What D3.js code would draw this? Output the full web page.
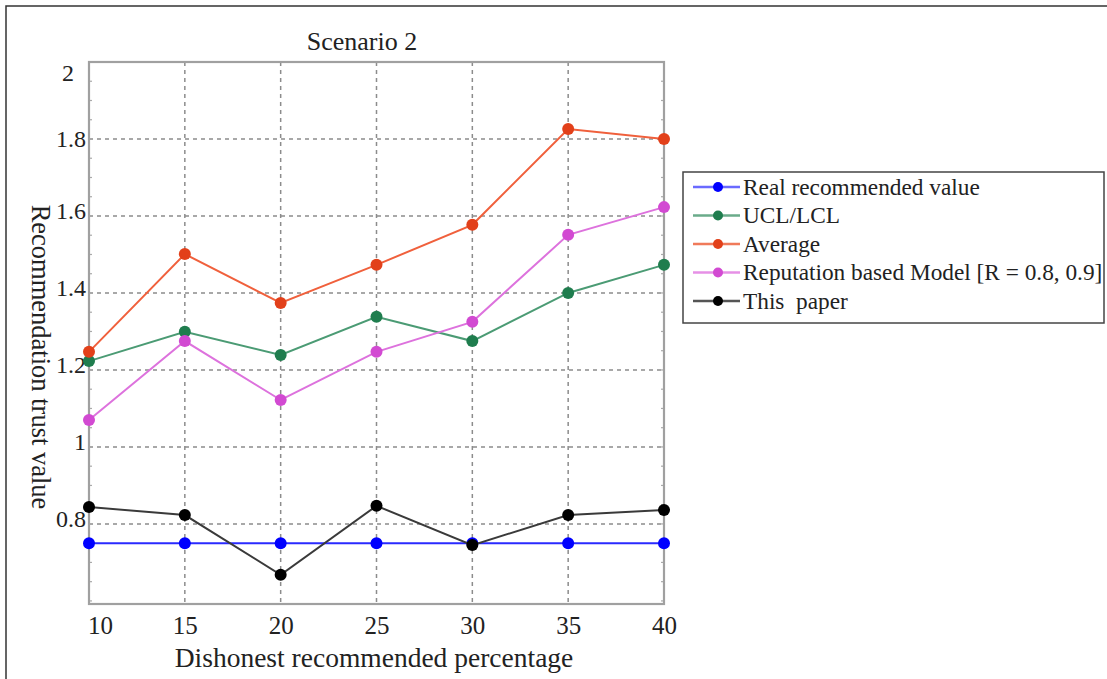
<!DOCTYPE html>
<html>
<head>
<meta charset="utf-8">
<script src="https://cdn.jsdelivr.net/npm/d3@7"></script>
<style>
  body { margin: 0; background: #fff; }
  text { font-family: "Liberation Serif", "Times New Roman", serif; fill: #222; }
</style>
</head>
<body>
<svg id="chart" width="1107" height="679"></svg>
<script>
// data
const percentages = [10, 15, 20, 25, 30, 35, 40];
const realValue   = [0.75, 0.75, 0.75, 0.75, 0.75, 0.75, 0.75];
const uclLcl      = [1.223, 1.299, 1.239, 1.338, 1.275, 1.40, 1.473];
const average     = [1.247, 1.501, 1.374, 1.473, 1.577, 1.826, 1.80];
const reputation  = [1.07, 1.275, 1.122, 1.247, 1.325, 1.551, 1.623];
const thisPaper   = [0.844, 0.823, 0.668, 0.847, 0.745, 0.823, 0.836];
const seriesNames = ["Real recommended value", "UCL/LCL", "Average",
                     "Reputation based Model [R = 0.8, 0.9]", "This  paper"];
const yTicks = [0.8, 1, 1.2, 1.4, 1.6, 1.8, 2];

// styles per series (line colour, marker colour)
const styles = [
  { line: "#2a2aff", dot: "#0000ff", legendLine: "#6a6aff" },
  { line: "#4b9b74", dot: "#1f7d4e", legendLine: "#6aab8a" },
  { line: "#f0603c", dot: "#e2401a", legendLine: "#f07a5a" },
  { line: "#dd72dd", dot: "#d24ad2", legendLine: "#e690e6" },
  { line: "#3a3a3a", dot: "#000000", legendLine: "#555555" }
];

const allSeries = [realValue, uclLcl, average, reputation, thisPaper];

const svg = d3.select("#chart");
const plot = { left: 89, right: 664, top: 62, bottom: 604 };

// outer frame (runs off the right/bottom of the image)
svg.append("rect")
  .attr("x", 6).attr("y", 6).attr("width", 1200).attr("height", 800)
  .attr("fill", "none").attr("stroke", "#333").attr("stroke-width", 1.5);

const x = d3.scaleLinear().domain([10, 40]).range([plot.left, plot.right]);
const y = d3.scaleLinear().domain([0.592, 2]).range([plot.bottom, plot.top]);

// grid
const grid = svg.append("g").attr("stroke", "#8c8c8c").attr("stroke-width", 1.5)
  .attr("stroke-dasharray", "4,4");
grid.selectAll(".vg").data(percentages.slice(1, -1)).join("line")
  .attr("x1", d => x(d)).attr("x2", d => x(d))
  .attr("y1", plot.top).attr("y2", plot.bottom);
grid.selectAll(".hg").data(yTicks.slice(0, -1)).join("line")
  .attr("x1", plot.left).attr("x2", plot.right)
  .attr("y1", d => y(d)).attr("y2", d => y(d));

// minor ticks on the left / right of the box
const minor = svg.append("g").attr("stroke", "#aaa").attr("stroke-width", 1.2);
const yMinor = d3.range(0.6, 2.0001, 0.05);
minor.selectAll(".ml").data(yMinor).join("line")
  .attr("x1", plot.left).attr("x2", plot.left + 3)
  .attr("y1", d => y(d)).attr("y2", d => y(d));
minor.selectAll(".mr").data(yMinor).join("line")
  .attr("x1", plot.right).attr("x2", plot.right - 3)
  .attr("y1", d => y(d)).attr("y2", d => y(d));

// box
svg.append("rect")
  .attr("x", plot.left).attr("y", plot.top)
  .attr("width", plot.right - plot.left).attr("height", plot.bottom - plot.top)
  .attr("fill", "none").attr("stroke", "#a0a0a0").attr("stroke-width", 2.2);

// axes (labels only)
const xAxis = svg.append("g").attr("transform", `translate(0,${plot.bottom})`)
  .call(d3.axisBottom(x).tickValues(percentages).tickSize(0).tickPadding(12));
xAxis.select(".domain").remove();
xAxis.selectAll("text").style("font-size", "25px").attr("fill", "#222");
xAxis.selectAll("text").filter(d => d === 10).attr("dx", 11);

const yAxis = svg.append("g").attr("transform", `translate(${plot.left},0)`)
  .call(d3.axisLeft(y).tickValues(yTicks).tickSize(0).tickPadding(3)
    .tickFormat(d => String(d)));
yAxis.select(".domain").remove();
yAxis.selectAll("text").style("font-size", "24px").attr("fill", "#222");
yAxis.selectAll("text").filter(d => d === 2).attr("dy", "0.75em").attr("dx", -12);
yAxis.selectAll("text").filter(d => d < 1.7).attr("dy", "0.1em");

// titles
svg.append("text").attr("x", 362).attr("y", 50).attr("text-anchor", "middle")
  .style("font-size", "26px").text("Scenario 2");
svg.append("text").attr("x", 374).attr("y", 667).attr("text-anchor", "middle")
  .style("font-size", "27.5px").text("Dishonest recommended percentage");
svg.append("text").attr("transform", "translate(32,357) rotate(90)")
  .attr("text-anchor", "middle").style("font-size", "26.5px")
  .text("Recommendation trust value");

// series
const line = d3.line().x((d, i) => x(percentages[i])).y(d => y(d));
allSeries.forEach((vals, k) => {
  const g = svg.append("g");
  g.append("path").datum(vals).attr("d", line)
    .attr("fill", "none").attr("stroke", styles[k].line).attr("stroke-width", 2);
  g.selectAll("circle").data(vals).join("circle")
    .attr("cx", (d, i) => x(percentages[i])).attr("cy", d => y(d))
    .attr("r", 6).attr("fill", styles[k].dot);
});

// legend
const lg = { x: 683, y: 172, w: 421, h: 151, row: 28.5 };
svg.append("rect").attr("x", lg.x).attr("y", lg.y).attr("width", lg.w).attr("height", lg.h)
  .attr("fill", "#fff").attr("stroke", "#444").attr("stroke-width", 1.5);
const items = svg.append("g").selectAll("g").data(seriesNames).join("g")
  .attr("transform", (d, i) => `translate(${lg.x},${lg.y + 15 + i * lg.row})`);
items.append("line").attr("x1", 10).attr("x2", 57).attr("y1", 0).attr("y2", 0)
  .attr("stroke", (d, i) => styles[i].legendLine).attr("stroke-width", 2.5);
items.append("circle").attr("cx", 35).attr("cy", 0).attr("r", 5)
  .attr("fill", (d, i) => styles[i].dot);
items.append("text").attr("x", 60).attr("y", 0).attr("dy", "0.33em")
  .style("font-size", "23.3px").style("white-space", "pre").text(d => d);
</script>
</body>
</html>
